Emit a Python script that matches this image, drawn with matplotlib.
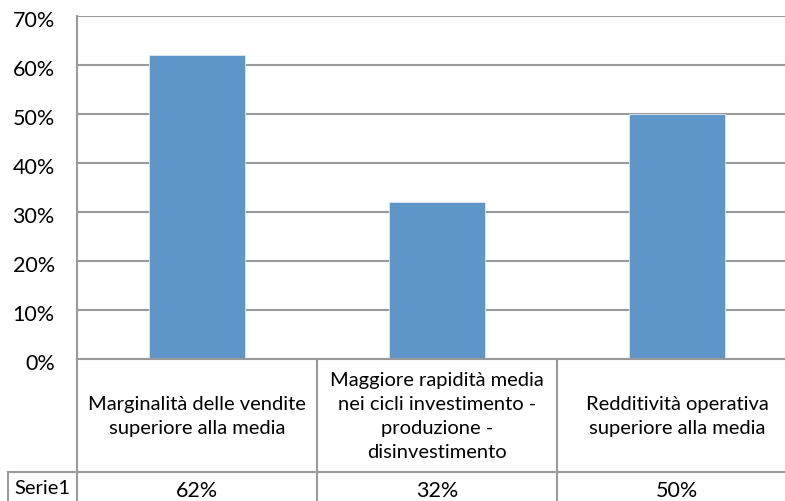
import matplotlib
matplotlib.use("Agg")
import matplotlib.pyplot as plt
import matplotlib.transforms as mtransforms
from matplotlib.lines import Line2D

# categories and values of the single series
categories = [
    "Marginalità delle vendite\nsuperiore alla media",
    "Maggiore rapidità media\nnei cicli investimento -\nproduzione -\ndisinvestimento",
    "Redditività operativa\nsuperiore alla media",
]
serie1 = [0.62, 0.32, 0.50]
series_name = "Serie1"
y_ticks = [0.0, 0.1, 0.2, 0.3, 0.4, 0.5, 0.6, 0.7]

W, H = 785, 501
plt.rcParams["font.family"] = ["Lato", "DejaVu Sans"]
bar_color = "#5F96CA"
line_color = "#9A9A9A"
fs = 14.5
fs_num = 15.5

fig = plt.figure(figsize=(W / 100, H / 100), dpi=100)
fig.patch.set_facecolor("white")

# plot area (right side runs past the figure edge)
ax = fig.add_axes([77 / W, (H - 359) / H, 720 / W, 343 / H])
x = list(range(len(categories)))
ax.bar(x, serie1, width=0.4, color=bar_color, edgecolor="#DCE8F4", linewidth=0.6, zorder=3)
ax.set_xlim(-0.5, len(categories) - 0.5)
ax.set_ylim(0, 0.7)
ax.set_yticks(y_ticks)
ax.set_yticklabels([f"{int(round(t * 100))}%" for t in y_ticks], fontsize=fs_num)
ax.tick_params(axis="y", length=0, pad=16)
ax.set_xticks([])
ax.grid(axis="y", color=line_color, linewidth=1.5, zorder=0)
for s in ["top", "right", "bottom"]:
    ax.spines[s].set_visible(False)
ax.spines["left"].set_color(line_color)
ax.spines["left"].set_linewidth(1.5)

# shift tick labels slightly below their gridlines
shift = mtransforms.ScaledTranslation(0, -3 / 100, fig.dpi_scale_trans)
for lab in ax.get_yticklabels():
    lab.set_transform(lab.get_transform() + shift)

# data table under the plot: x follows categories, y in pixels from the top
pix = mtransforms.Affine2D().scale(1 / W, -1 / H).translate(0, 1) + fig.transFigure
tr = mtransforms.blended_transform_factory(ax.transData, pix)
px = pix

row_top, row_mid, row_bot = 359, 472, 520
edges = [i - 0.5 for i in range(len(categories) + 1)]


def add_line(xs, ys, transform):
    fig.add_artist(Line2D(xs, ys, transform=transform, color=line_color,
                          linewidth=1.5, clip_on=False))


add_line([edges[0], edges[-1]], [row_top, row_top], tr)
add_line([edges[0], edges[-1]], [row_mid, row_mid], tr)
for e in edges:
    add_line([e, e], [row_top, row_bot], tr)

# legend-key cell for the series name
add_line([8, 77], [row_mid, row_mid], px)
add_line([8, 8], [row_mid, row_bot], px)
fig.text(14, 489, series_name, transform=px, fontsize=fs, ha="left", va="center")

for i, (cat, val) in enumerate(zip(categories, serie1)):
    fig.text(i, 417, cat, transform=tr, fontsize=fs, ha="center", va="center",
             linespacing=1.5, multialignment="center")
    fig.text(i, 491, f"{int(round(val * 100))}%", transform=tr, fontsize=fs_num,
             ha="center", va="center")

fig.savefig("out.png", dpi=100)
